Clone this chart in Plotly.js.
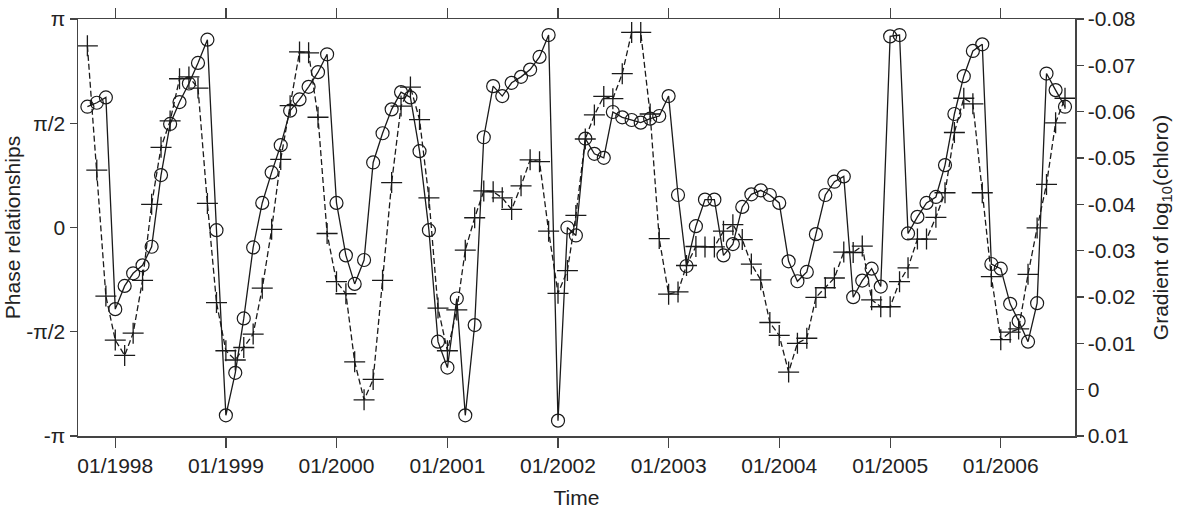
<!DOCTYPE html>
<html>
<head>
<meta charset="utf-8">
<script src="https://cdn.plot.ly/plotly-3.0.1.min.js"></script>
<style>
  html, body { margin: 0; padding: 0; background: #fff; }
  #chart { width: 1182px; height: 512px; }
</style>
</head>
<body>
<div id="chart"></div>
<script>
// monthly series, first point Oct 1997
const startYear = 1997
const startMonth = 10

// phase relationships (radians), circles, left axis
const phase = [
  1.82, 1.88, 1.96,
  -1.23, -0.88, -0.69, -0.57, -0.29, 0.79, 1.56, 1.89, 2.17, 2.48, 2.83, -0.04,
  -2.83, -2.19, -1.37, -0.30, 0.37, 0.83, 1.24, 1.76, 1.93, 2.12, 2.34, 2.61,
  0.37, -0.42, -0.85, -0.49, 0.98, 1.42, 1.78, 2.04, 1.96, 1.15, -0.04, -1.72,
  -2.11, -1.07, -2.83, -1.47, 1.36, 2.13, 1.98, 2.18, 2.27, 2.38, 2.57, 2.90,
  -2.91, 0.00, -0.12, 1.34, 1.11, 1.05, 1.74, 1.66, 1.62, 1.58, 1.64, 1.68,
  1.98, 0.49, -0.58, 0.02, 0.42, 0.42, -0.42, -0.25, 0.31, 0.50, 0.56, 0.49,
  0.37, -0.51, -0.81, -0.67, -0.10, 0.49, 0.69, 0.77, -1.05, -0.80, -0.62, -0.89,
  2.88, 2.90, -0.09, 0.16, 0.37, 0.46, 0.94, 1.71, 2.28, 2.66, 2.76, -0.55,
  -0.62, -1.15, -1.41, -1.72, -1.14, 2.32, 2.07, 1.82
]

// gradient of log10(chloro), crosses, right axis
const gradient = [
  -0.0742, -0.0474, -0.0202,
  -0.0107, -0.0074, -0.0122, -0.0236, -0.0400, -0.0523, -0.0580, -0.0671, -0.0675, -0.0651, -0.0402, -0.0188,
  -0.0084, -0.0064, -0.0091, -0.0120, -0.0219, -0.0346, -0.0497, -0.0613, -0.0729, -0.0727, -0.0588, -0.0337,
  -0.0233, -0.0207, -0.0060, 0.0022, -0.0022, -0.0236, -0.0447, -0.0612, -0.0653, -0.0583, -0.0414, -0.0176,
  -0.0084, -0.0172, -0.0301, -0.0371, -0.0429, -0.0427, -0.0414, -0.0389, -0.0440, -0.0496, -0.0492, -0.0342,
  -0.0208, -0.0257, -0.0376, -0.0541, -0.0593, -0.0633, -0.0628, -0.0682, -0.0771, -0.0771, -0.0595, -0.0326,
  -0.0206, -0.0211, -0.0268, -0.0309, -0.0308, -0.0308, -0.0342, -0.0356, -0.0324, -0.0271, -0.0237, -0.0145,
  -0.0117, -0.0038, -0.0100, -0.0111, -0.0199, -0.0220, -0.0241, -0.0297, -0.0296, -0.0310, -0.0194, -0.0179,
  -0.0179, -0.0233, -0.0263, -0.0325, -0.0325, -0.0372, -0.0425, -0.0555, -0.0629, -0.0617, -0.0425, -0.0244,
  -0.0108, -0.0124, -0.0131, -0.0249, -0.0349, -0.0443, -0.0576, -0.0629
]

const phaseTickVals = [-Math.PI, -Math.PI / 2, 0, Math.PI / 2, Math.PI]
const phaseTickText = ['-π', '-π/2', '0', 'π/2', 'π']
const gradTickVals = [-0.08, -0.07, -0.06, -0.05, -0.04, -0.03, -0.02, -0.01, 0, 0.01]
const gradTickText = ['-0.08', '-0.07', '-0.06', '-0.05', '-0.04', '-0.03', '-0.02', '-0.01', '0', '0.01']

function monthDates(n) {
    let out = []
    for (let i = 0; i < n; i++) {
        let m = startMonth - 1 + i
        let y = startYear + Math.floor(m / 12)
        let mm = (m % 12) + 1
        out.push(y + '-' + (mm < 10 ? '0' + mm : mm) + '-01')
    }
    return out
}

const datesPhase = monthDates(phase.length)
const datesGrad = monthDates(gradient.length)

const ink = '#1a1a1a'
const axisCol = '#444'
const fontFam = 'Liberation Sans, Arial, Helvetica, sans-serif'
const fs = 21

const phaseTrace = {
    type: 'scatter',
    mode: 'lines+markers',
    x: datesPhase,
    y: phase,
    yaxis: 'y',
    line: { color: ink, width: 1.3 },
    marker: { symbol: 'circle-open', size: 13, color: ink, line: { width: 1.2, color: ink } },
    hoverinfo: 'x+y'
}

const gradTrace = {
    type: 'scatter',
    mode: 'lines+markers',
    x: datesGrad,
    y: gradient,
    yaxis: 'y2',
    line: { color: ink, width: 1.3, dash: '6px,3px' },
    marker: { symbol: 'cross-thin-open', size: 15, color: ink, line: { width: 1.3, color: ink } },
    hoverinfo: 'x+y'
}

const layout = {
    width: 1182,
    height: 512,
    margin: { l: 78, r: 107, t: 19, b: 76 },
    paper_bgcolor: '#fff',
    plot_bgcolor: '#fff',
    showlegend: false,
    font: { family: fontFam, size: fs, color: '#222' },
    xaxis: {
        type: 'date',
        range: ['1997-08-31', '2006-09-03'],
        tick0: '1998-01-01',
        dtick: 'M12',
        tickformat: '%m/%Y',
        showgrid: false,
        zeroline: false,
        showline: true,
        linecolor: axisCol,
        linewidth: 1.5,
        mirror: 'ticks',
        ticks: 'outside',
        ticklen: 10,
        tickwidth: 1.3,
        tickcolor: axisCol,
        tickfont: { size: fs },
        title: { text: 'Time', font: { size: fs }, standoff: 14 }
    },
    yaxis: {
        range: [-Math.PI, Math.PI],
        tickvals: phaseTickVals,
        ticktext: phaseTickText,
        showgrid: false,
        zeroline: false,
        showline: true,
        linecolor: axisCol,
        linewidth: 1.5,
        ticks: 'outside',
        ticklen: 7,
        tickwidth: 1.3,
        tickcolor: axisCol,
        tickfont: { size: fs },
        title: { text: 'Phase relationships', font: { size: fs }, standoff: 0 }
    },
    yaxis2: {
        overlaying: 'y',
        side: 'right',
        range: [0.01, -0.08],
        tickvals: gradTickVals,
        ticktext: gradTickText,
        showgrid: false,
        zeroline: false,
        showline: true,
        linecolor: axisCol,
        linewidth: 1.5,
        ticks: 'outside',
        ticklen: 7,
        tickwidth: 1.3,
        tickcolor: axisCol,
        tickfont: { size: fs },
        title: { text: 'Gradient of log<sub>10</sub>(chloro)', font: { size: fs }, standoff: 18 }
    }
}

Plotly.newPlot('chart', [phaseTrace, gradTrace], layout, { displayModeBar: false, staticPlot: true })
</script>
</body>
</html>
